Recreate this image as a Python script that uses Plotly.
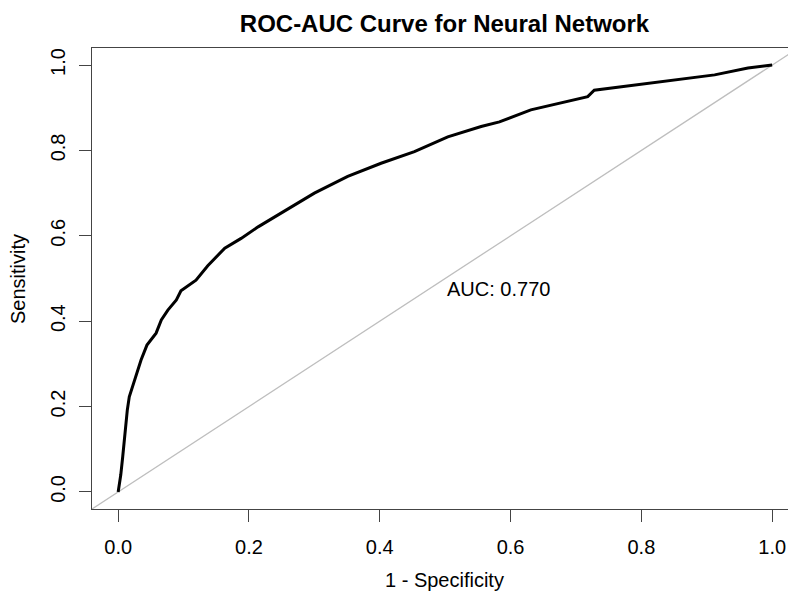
import plotly.graph_objects as go

# ROC curve points (1 - specificity, sensitivity)
fpr = [0.0, 0.004, 0.007, 0.010, 0.014, 0.017, 0.025, 0.035, 0.044, 0.050, 0.058,
       0.066, 0.076, 0.089, 0.096, 0.119, 0.137, 0.163, 0.188, 0.214, 0.244,
       0.275, 0.300, 0.351, 0.402, 0.453, 0.504, 0.555, 0.583, 0.631, 0.718,
       0.728, 0.810, 0.912, 0.963, 0.998, 1.0]
tpr = [0.0, 0.04, 0.083, 0.137, 0.192, 0.223, 0.262, 0.309, 0.344, 0.356, 0.372,
       0.403, 0.426, 0.450, 0.471, 0.496, 0.530, 0.571, 0.594, 0.621, 0.648,
       0.676, 0.700, 0.739, 0.770, 0.797, 0.832, 0.856, 0.867, 0.895, 0.926,
       0.941, 0.957, 0.977, 0.993, 0.998, 1.0]

diag_x = [-0.04, 1.04]
diag_y = [-0.04, 1.04]

tick_vals = [0.0, 0.2, 0.4, 0.6, 0.8, 1.0]
tick_text = ["0.0", "0.2", "0.4", "0.6", "0.8", "1.0"]

title_text = "ROC-AUC Curve for Neural Network"
x_title = "1 - Specificity"
y_title = "Sensitivity"
auc_text = "AUC: 0.770"

FONT = "Liberation Sans, Arial, sans-serif"

fig = go.Figure()
fig.add_trace(go.Scatter(x=diag_x, y=diag_y, mode="lines",
                         line=dict(color="#BEBEBE", width=1.3), hoverinfo="skip"))
fig.add_trace(go.Scatter(x=fpr, y=tpr, mode="lines",
                         line=dict(color="#000000", width=3), hoverinfo="skip"))

W, H = 788, 597
L, T, B = 92, 48, 88
plot_w = W - L
plot_h = H - T - B
x_min = -0.04
x_max = x_min + plot_w / 654.0

def px_to_paper_x(px):
    return (px - L) / plot_w

def px_to_paper_y(py):
    return (H - B - py) / plot_h

fig.update_layout(
    width=W, height=H,
    margin=dict(l=L, r=0, t=T, b=B, pad=0),
    paper_bgcolor="white", plot_bgcolor="white",
    showlegend=False,
    font=dict(family=FONT, size=20, color="#000000"),
    title=dict(text="<b>" + title_text + "</b>", font=dict(family=FONT, size=24, color="#000000"),
               x=px_to_paper_x(444.5), xref="paper", xanchor="center",
               y=1 - 24 / H, yref="container", yanchor="middle"),
    xaxis=dict(range=[x_min, x_max], tickvals=tick_vals, ticktext=tick_text,
               showgrid=False, zeroline=False, showline=True, linecolor="#444444",
               linewidth=1.3, mirror=True, ticks="outside", ticklen=12, tickwidth=1.3,
               tickcolor="#444444", ticklabelstandoff=8,
               tickfont=dict(family=FONT, size=20, color="#000000")),
    yaxis=dict(range=[-0.04, 1.04], tickvals=tick_vals, ticktext=tick_text,
               showgrid=False, zeroline=False, showline=True, linecolor="#444444",
               linewidth=1.3, mirror=False, ticks="outside", ticklen=12, tickwidth=1.3,
               tickcolor="#444444", tickangle=-90, ticklabelstandoff=6,
               tickfont=dict(family=FONT, size=20, color="#000000")),
    annotations=[
        dict(text=x_title, xref="paper", yref="paper", x=px_to_paper_x(444.5),
             y=px_to_paper_y(580), xanchor="center", yanchor="middle", showarrow=False,
             font=dict(family=FONT, size=20, color="#000000")),
        dict(text=y_title, xref="paper", yref="paper", x=px_to_paper_x(18),
             y=px_to_paper_y(279), xanchor="center", yanchor="middle", showarrow=False,
             textangle=-90, font=dict(family=FONT, size=20, color="#000000")),
        dict(text=auc_text, xref="x", yref="y", x=0.5, y=0.475,
             xanchor="left", yanchor="middle", showarrow=False,
             font=dict(family=FONT, size=20, color="#000000")),
    ],
)

fig.write_html("out.html")
